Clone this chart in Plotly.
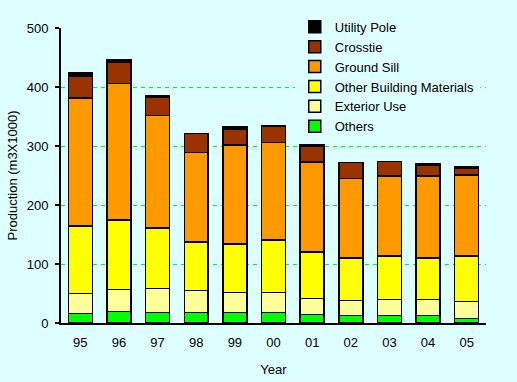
import plotly.graph_objects as go

years = ["95", "96", "97", "98", "99", "00", "01", "02", "03", "04", "05"]
others = [16, 19.5, 17.5, 17.5, 17.5, 17.5, 14, 12.5, 12.5, 12.5, 7.5]
exterior_use = [34, 37.5, 41, 37.5, 34.5, 34.5, 27.5, 25.5, 27.5, 27.5, 29]
other_building = [114.5, 117.5, 102.5, 82, 82, 88.5, 79, 72, 73.5, 70, 77]
ground_sill = [216.5, 231.5, 191, 152, 168, 165.5, 152.5, 135, 136, 139.5, 137.5]
crosstie = [37, 36, 30.5, 32, 27, 27, 27, 27, 24, 18, 11.5]
utility_pole = [6, 3.5, 3.5, 0, 3, 1.5, 2, 0, 0, 2.5, 3]

series = [
    ("Others", others, "#00ff00"),
    ("Exterior Use", exterior_use, "#ffff99"),
    ("Other Building Materials", other_building, "#ffff00"),
    ("Ground Sill", ground_sill, "#ff9900"),
    ("Crosstie", crosstie, "#993300"),
    ("Utility Pole", utility_pole, "#000000"),
]

fig = go.Figure()
for name, vals, color in series:
    fig.add_trace(go.Bar(
        x=years, y=vals, name=name,
        marker=dict(color=color, line=dict(color="black", width=1.5)),
    ))

bg = "#ddffff"
fig.update_layout(
    width=517, height=382,
    barmode="stack", bargap=0.38,
    paper_bgcolor=bg, plot_bgcolor=bg,
    margin=dict(l=61, r=31, t=28, b=59, autoexpand=False),
    font=dict(family="Liberation Sans, Arial", size=13, color="black"),
    legend=dict(
        traceorder="reversed",
        x=0.55, y=1.055, xanchor="left", yanchor="top",
        bgcolor=bg,
        font=dict(size=13),
        itemclick=False,
    ),
    xaxis=dict(
        title=dict(text="Year", standoff=16, font=dict(size=13)),
        showline=True, linecolor="black", linewidth=2,
        ticks="", showgrid=False, ticklabelstandoff=6,
    ),
    yaxis=dict(
        title=dict(text="Production (m3X1000)", standoff=6, font=dict(size=13)),
        range=[0, 500], dtick=100,
        showline=True, linecolor="black", linewidth=2,
        ticks="outside", ticklen=4, tickcolor="black", tickwidth=2,
        ticklabelstandoff=4,
        showgrid=True, gridcolor="#00ff00", griddash="4px,4px", gridwidth=1,
        zeroline=False,
    ),
)

fig.write_html(
    "out.html",
    config={"displayModeBar": False},
    post_script="document.body.style.margin='0';document.body.style.background='%s';" % bg,
)
